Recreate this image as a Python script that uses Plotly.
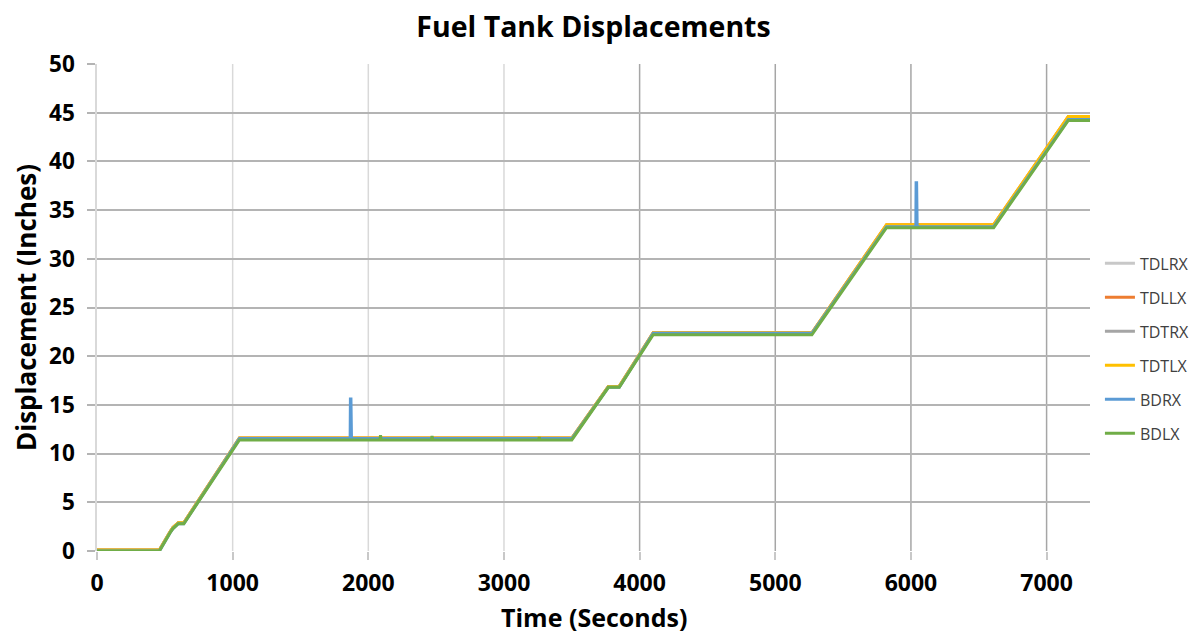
import plotly.graph_objects as go

# ---- data ----
x_ticks = [0, 1000, 2000, 3000, 4000, 5000, 6000, 7000]
y_ticks = [0, 5, 10, 15, 20, 25, 30, 35, 40, 45, 50]
x_grid_light = [1000, 2000, 3000]
x_grid_dark = [4000, 5000, 6000, 7000]

t_main = [0, 460, 540, 560, 600, 640, 1050, 3500, 3770, 3850, 4100, 5270, 5820, 6610, 7160, 7320]

tdlrx = [0.1, 0.1, 2.0, 2.4, 2.9, 2.9, 11.6, 11.6, 16.9, 16.9, 22.4, 22.4, 33.4, 33.4, 44.5, 44.5]
tdllx = [0.1, 0.1, 2.0, 2.4, 2.9, 2.9, 11.6, 11.6, 16.9, 16.9, 22.4, 22.4, 33.5, 33.5, 44.6, 44.6]
tdtrx = [0.1, 0.1, 2.0, 2.4, 2.9, 2.9, 11.5, 11.5, 16.9, 16.9, 22.3, 22.3, 33.4, 33.4, 44.5, 44.5]
tdtlx = [0.1, 0.1, 2.0, 2.4, 2.9, 2.9, 11.6, 11.6, 16.9, 16.9, 22.4, 22.4, 33.5, 33.5, 44.6, 44.6]

t_bdrx = [0, 460, 540, 560, 600, 640, 1050, 1866, 1868, 1872, 1876, 3500, 3770, 3850, 4100,
          5270, 5820, 6036, 6038, 6042, 6046, 6610, 7160, 7320]
bdrx = [0.0, 0.0, 1.9, 2.3, 2.8, 2.8, 11.55, 11.55, 15.6, 15.6, 11.55, 11.55, 16.8, 16.8, 22.35,
        22.35, 33.3, 33.3, 37.8, 37.8, 33.3, 33.3, 44.3, 44.3]

t_bdlx = [0, 460, 540, 560, 600, 640, 1050, 2085, 2090, 2095, 2465, 2470, 2475,
          3255, 3260, 3265, 3500, 3770, 3850, 4100, 5270, 5820, 6610, 7160, 7320]
bdlx = [0.0, 0.0, 1.9, 2.3, 2.8, 2.8, 11.4, 11.4, 11.9, 11.4, 11.4, 11.8, 11.4,
        11.4, 11.7, 11.4, 11.4, 16.8, 16.8, 22.2, 22.2, 33.2, 33.2, 44.2, 44.2]

series = [
    ("TDLRX", t_main, tdlrx, "#c8c8c8"),
    ("TDLLX", t_main, tdllx, "#ed7d31"),
    ("TDTRX", t_main, tdtrx, "#a5a5a5"),
    ("TDTLX", t_main, tdtlx, "#ffc000"),
    ("BDRX", t_bdrx, bdrx, "#5b9bd5"),
    ("BDLX", t_bdlx, bdlx, "#70ad47"),
]

FONT = "Open Sans"

fig = go.Figure()
for name, tx, ty, col in series:
    fig.add_trace(go.Scatter(x=tx, y=ty, mode="lines", name=name, legendgroup=name,
                             line=dict(color=col, width=3)))

shapes = []
for gx in x_grid_light:
    shapes.append(dict(type="line", xref="x", yref="paper", x0=gx, x1=gx, y0=0, y1=1,
                       line=dict(color="#d9d9d9", width=1.5), layer="below"))
for gx in x_grid_dark:
    shapes.append(dict(type="line", xref="x", yref="paper", x0=gx, x1=gx, y0=0, y1=1,
                       line=dict(color="#a6a6a6", width=1.5), layer="below"))

# page body has an 8px margin, so the figure is sized to fit inside the window
fig.update_layout(
    width=1188, height=625,
    margin=dict(l=89, r=106, t=56, b=82, autoexpand=False),
    paper_bgcolor="white", plot_bgcolor="white",
    title=dict(text="<b>Fuel Tank Displacements</b>", x=0.5, xref="paper", xanchor="center",
               y=0.97, yref="container", yanchor="middle",
               font=dict(family=FONT, size=28.5, color="black")),
    shapes=shapes,
    annotations=[dict(text="<b>Time (Seconds)</b>", xref="paper", yref="paper",
                      x=0.5, y=0, xanchor="center", yanchor="middle", yshift=-66,
                      showarrow=False, font=dict(family=FONT, size=25, color="black"))],
    legend=dict(x=1.01, xanchor="left", y=0.416, yanchor="middle",
                font=dict(family=FONT, size=16, color="#404040"),
                tracegroupgap=10.2, itemwidth=30, bgcolor="rgba(0,0,0,0)"),
    showlegend=True,
)

fig.update_xaxes(range=[0, 7320], tickvals=x_ticks, ticktext=[f"<b>{v}</b>" for v in x_ticks],
                 showgrid=False, zeroline=False, showline=False, automargin=False,
                 ticks="outside", ticklen=8, tickcolor="#c8c8c8", tickwidth=1.5,
                 ticklabelstandoff=3,
                 tickfont=dict(family=FONT, size=23, color="black"))
fig.update_yaxes(range=[0, 50], tickvals=y_ticks, ticktext=[f"<b>{v}</b>" for v in y_ticks],
                 showgrid=True, gridcolor="#b4b4b4", gridwidth=1.5, automargin=False,
                 zeroline=False, showline=True, linecolor="#d9d9d9", linewidth=1.5,
                 ticks="outside", ticklen=8, tickcolor="#b4b4b4", tickwidth=1.5,
                 ticklabelstandoff=8,
                 tickfont=dict(family=FONT, size=22.5, color="black"),
                 title=dict(text="<b>Displacement (Inches)</b>", standoff=8,
                            font=dict(family=FONT, size=26, color="black")))

fig.write_html("out.html")
